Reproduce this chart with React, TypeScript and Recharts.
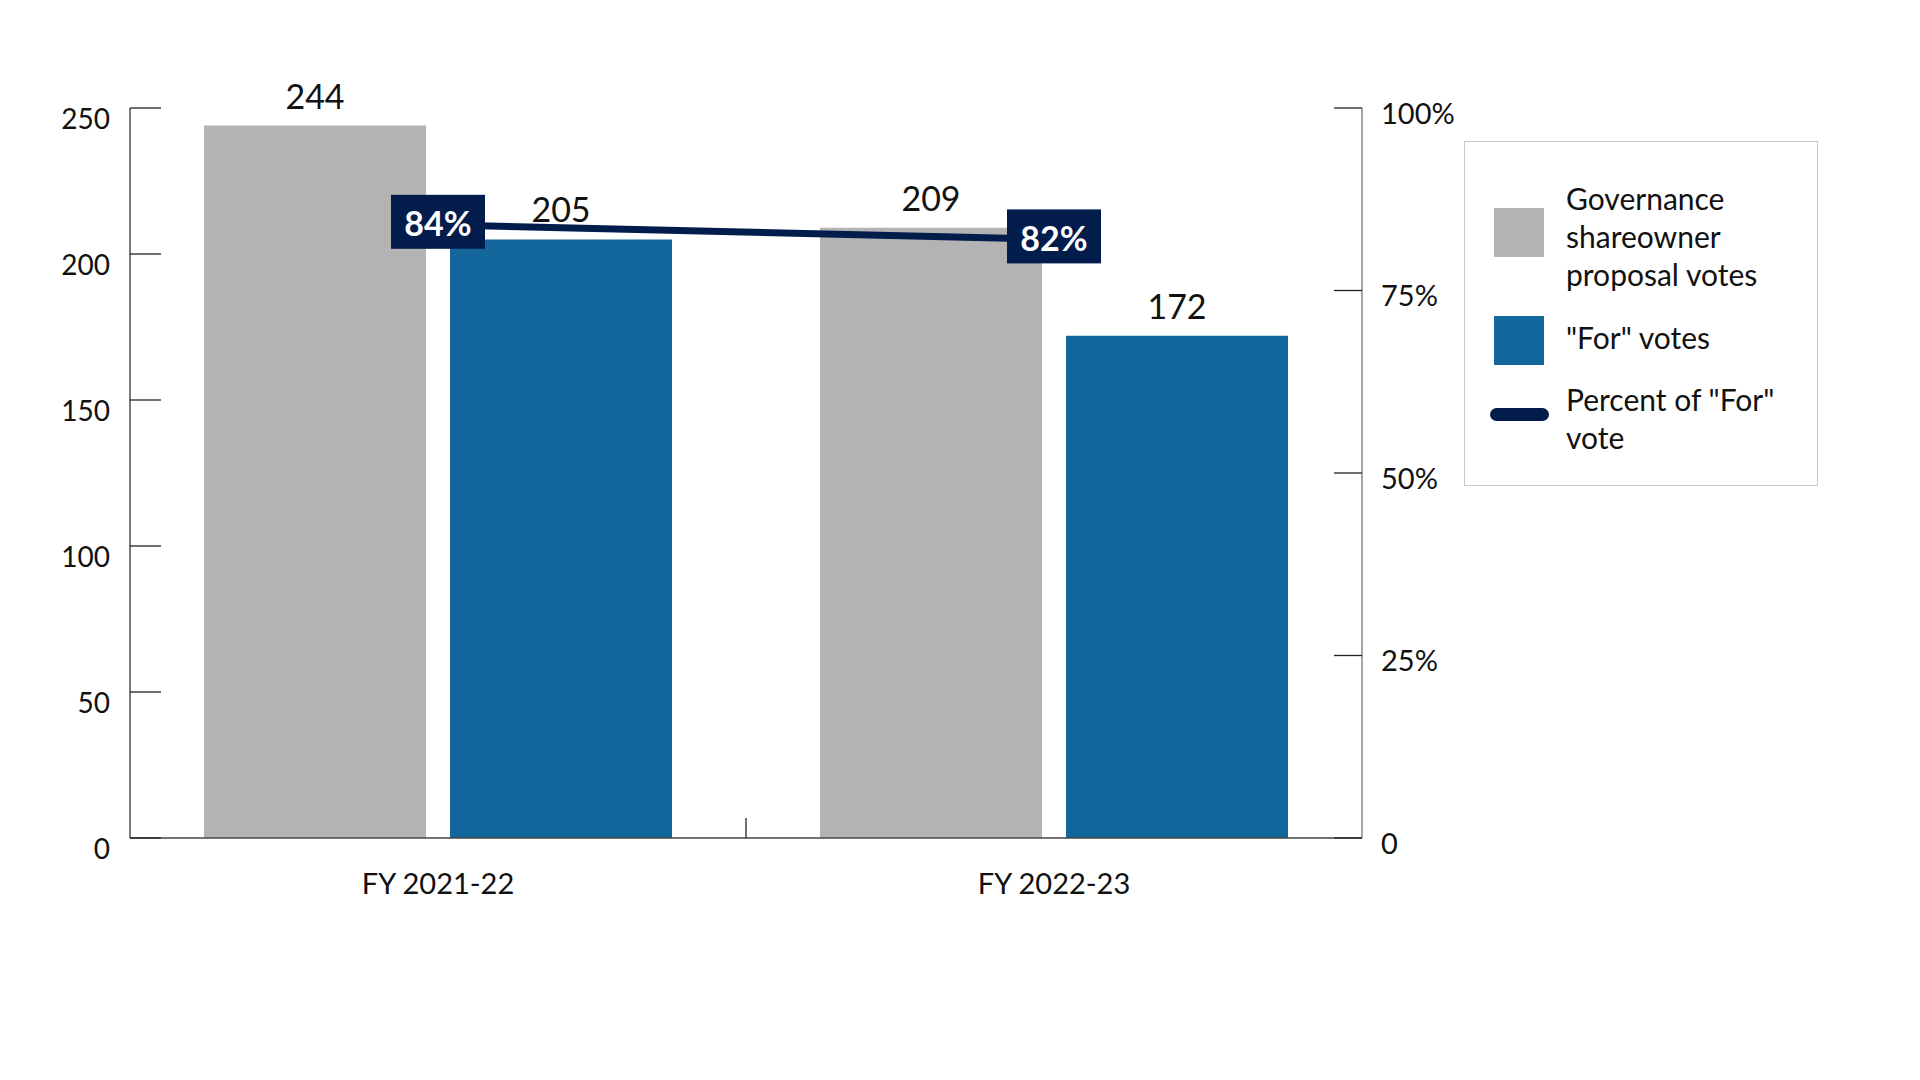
import React from 'react';
import { ComposedChart, Bar, Line, XAxis, YAxis, LabelList, Legend } from 'recharts';

const categories = ['FY 2021-22', 'FY 2022-23'];
const governanceVotes = [244, 209];
const forVotes = [205, 172];
const forPercent = [84, 82];
const leftTicks = [0, 50, 100, 150, 200, 250];
const rightTicks = [0, 25, 50, 75, 100];

const GRAY = '#B3B3B3';
const BLUE = '#13679C';
const NAVY = '#021C4B';
const FONT = 'Lato, "Open Sans", sans-serif';

const data = categories.map((c, i) => ({
  category: c,
  governance: governanceVotes[i],
  forVotes: forVotes[i],
  pct: forPercent[i],
}));

const legendItems = [
  { name: 'Governance shareowner proposal votes', lines: ['Governance', 'shareowner', 'proposal votes'], color: GRAY, type: 'square' },
  { name: '"For" votes', lines: ['"For" votes'], color: BLUE, type: 'square' },
  { name: 'Percent of "For" vote', lines: ['Percent of "For"', 'vote'], color: NAVY, type: 'line' },
];

const LeftTick = (props: any) => {
  const { x, y, payload } = props;
  return (
    <g>
      <line x1={x} x2={x + 31} y1={y} y2={y} stroke="#222" strokeWidth={1.3} />
      <text x={x - 20} y={y + 10} textAnchor="end" dominantBaseline="central" fontSize={28} fontFamily={FONT} fill="#111">
        {payload.value}
      </text>
    </g>
  );
};

const RightTick = (props: any) => {
  const { x, y, payload } = props;
  return (
    <g>
      <line x1={x - 28} x2={x} y1={y} y2={y} stroke="#222" strokeWidth={1.3} />
      <text x={x + 19} y={y + 4} textAnchor="start" dominantBaseline="central" fontSize={29} fontFamily={FONT} fill="#111">
        {payload.value === 0 ? '0' : `${payload.value}%`}
      </text>
    </g>
  );
};

const BottomTick = (props: any) => {
  const { x, y, payload, index } = props;
  const half = payload && typeof payload.offset === 'number' ? payload.offset : 0;
  return (
    <g>
      {index === 0 && half > 0 ? (
        <line x1={x + half} x2={x + half} y1={y - 20} y2={y} stroke="#222" strokeWidth={1.3} />
      ) : null}
      <text x={x} y={y + 44} textAnchor="middle" dominantBaseline="central" fontSize={29} fontFamily={FONT} fill="#111">
        {payload.value}
      </text>
    </g>
  );
};

const PctLabel = (props: any) => {
  const { x, y, value } = props;
  const w = 94;
  const h = 54;
  return (
    <g>
      <rect x={x - w / 2} y={y - h / 2 - 3} width={w} height={h} fill={NAVY} />
      <text x={x} y={y - 2} textAnchor="middle" dominantBaseline="central" fontSize={34} fontWeight={700} fontFamily={FONT} fill="#fff">
        {`${value}%`}
      </text>
    </g>
  );
};

const LegendContent = () => (
  <div
    style={{
      position: 'relative',
      width: 354,
      height: 345,
      border: '1.5px solid #C8C8C8',
      boxSizing: 'border-box',
      fontFamily: FONT,
      fontSize: 30,
      color: '#111',
      background: '#fff',
    }}
  >
    <div style={{ position: 'absolute', left: 29, top: 66, width: 50, height: 49, background: legendItems[0].color }} />
    <div style={{ position: 'absolute', left: 101, top: 37, lineHeight: '38px', whiteSpace: 'nowrap' }}>
      {legendItems[0].lines.map((l) => (
        <div key={l}>{l}</div>
      ))}
    </div>
    <div style={{ position: 'absolute', left: 29, top: 174, width: 50, height: 49, background: legendItems[1].color }} />
    <div style={{ position: 'absolute', left: 101, top: 176, lineHeight: '38px', whiteSpace: 'nowrap' }}>
      {legendItems[1].lines.map((l) => (
        <div key={l}>{l}</div>
      ))}
    </div>
    <div style={{ position: 'absolute', left: 25, top: 266, width: 59, height: 13, borderRadius: 7, background: legendItems[2].color }} />
    <div style={{ position: 'absolute', left: 101, top: 238, lineHeight: '38px', whiteSpace: 'nowrap' }}>
      {legendItems[2].lines.map((l) => (
        <div key={l}>{l}</div>
      ))}
    </div>
  </div>
);

export default function App() {
  return (
    <div style={{ position: 'absolute', left: 0, top: 0, width: 1920, height: 1080, background: '#fff', fontFamily: FONT }}>
      <ComposedChart
        width={1920}
        height={1080}
        data={data}
        margin={{ top: 108, right: 458, bottom: 192, left: 30 }}
        barCategoryGap={74}
        barGap={24}
      >
        <XAxis
          dataKey="category"
          axisLine={{ stroke: '#444', strokeWidth: 1.5 }}
          tickLine={false}
          tickSize={0}
          tickMargin={0}
          height={50}
          tick={<BottomTick />}
          interval={0}
        />
        <YAxis
          yAxisId="left"
          orientation="left"
          domain={[0, 250]}
          ticks={leftTicks}
          width={100}
          axisLine={{ stroke: '#333', strokeWidth: 1.3 }}
          tickLine={false}
          tickSize={0}
          tickMargin={0}
          tick={<LeftTick />}
          interval={0}
        />
        <YAxis
          yAxisId="right"
          orientation="right"
          domain={[0, 100]}
          ticks={rightTicks}
          width={100}
          axisLine={{ stroke: '#888', strokeWidth: 1.5 }}
          tickLine={false}
          tickSize={0}
          tickMargin={0}
          tick={<RightTick />}
          interval={0}
        />
        <Legend
          layout="horizontal"
          verticalAlign="middle"
          align="center"
          content={<LegendContent />}
          wrapperStyle={{ position: 'absolute', left: 1464, top: 141, width: 354, height: 345 }}
        />
        <Bar yAxisId="left" dataKey="governance" name="Governance shareowner proposal votes" fill={GRAY} isAnimationActive={false}>
          <LabelList dataKey="governance" position="top" offset={17} fill="#111" fontSize={34} fontFamily={FONT} />
        </Bar>
        <Bar yAxisId="left" dataKey="forVotes" name='"For" votes' fill={BLUE} isAnimationActive={false}>
          <LabelList dataKey="forVotes" position="top" offset={17} fill="#111" fontSize={34} fontFamily={FONT} />
        </Bar>
        <Line
          yAxisId="right"
          dataKey="pct"
          name='Percent of "For" vote'
          stroke={NAVY}
          strokeWidth={7}
          dot={false}
          activeDot={false}
          isAnimationActive={false}
        >
          <LabelList dataKey="pct" content={<PctLabel />} />
        </Line>
      </ComposedChart>
    </div>
  );
}
